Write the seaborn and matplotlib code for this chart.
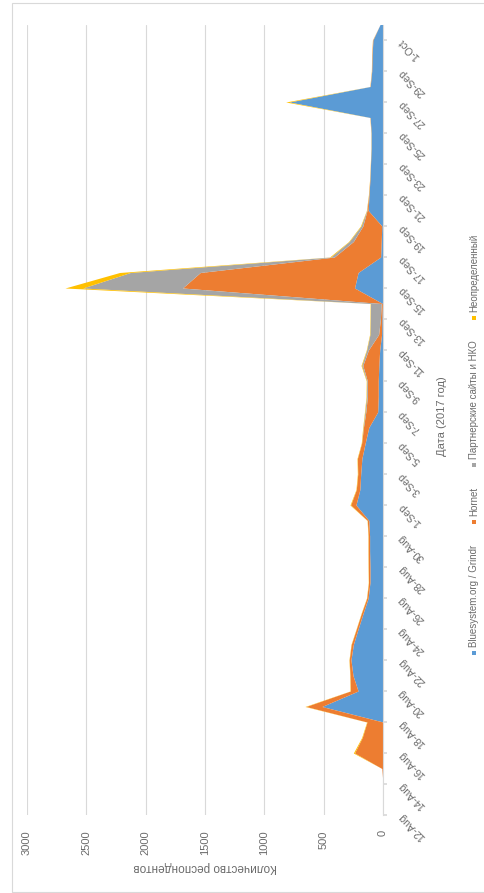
import numpy as np
import matplotlib
matplotlib.use('Agg')
import matplotlib.pyplot as plt
from matplotlib.patches import Rectangle
import seaborn as sns

# daily respondents, 12-Aug .. 2-Oct 2017
dates = ["12-Aug", "13-Aug", "14-Aug", "15-Aug", "16-Aug", "17-Aug", "18-Aug", "19-Aug",
         "20-Aug", "21-Aug", "22-Aug", "23-Aug", "24-Aug", "25-Aug", "26-Aug", "27-Aug",
         "28-Aug", "29-Aug", "30-Aug", "31-Aug", "1-Sep", "2-Sep", "3-Sep", "4-Sep",
         "5-Sep", "6-Sep", "7-Sep", "8-Sep", "9-Sep", "10-Sep", "11-Sep", "12-Sep",
         "13-Sep", "14-Sep", "15-Sep", "16-Sep", "17-Sep", "18-Sep", "19-Sep", "20-Sep",
         "21-Sep", "22-Sep", "23-Sep", "24-Sep", "25-Sep", "26-Sep", "27-Sep", "28-Sep",
         "29-Sep", "30-Sep", "1-Oct", "2-Oct"]

bluesystem = [0, 0, 0, 0, 0, 0, 0, 515, 210, 253, 270, 250, 210, 168, 125, 110,
              110, 113, 113, 120, 228, 195, 188, 178, 150, 120, 45, 40, 40, 35, 28, 12,
              10, 5, 240, 210, 20, 15, 10, 125, 118, 110, 105, 100, 100, 108, 790, 108,
              95, 92, 85, 25]
hornet = [0, 0, 0, 10, 240, 175, 135, 135, 65, 25, 15, 18, 15, 15, 12, 12,
          14, 12, 12, 12, 45, 30, 25, 38, 30, 45, 100, 92, 92, 135, 95, 25,
          12, 10, 1450, 1330, 390, 235, 160, 10, 3, 2, 1, 1, 1, 2, 0, 2,
          2, 3, 3, 0]
partners = [0, 0, 0, 0, 0, 0, 0, 0, 0, 0, 0, 0, 0, 0, 0, 0,
            0, 0, 0, 0, 0, 0, 0, 0, 0, 3, 8, 8, 6, 10, 15, 73,
            85, 90, 840, 590, 30, 35, 15, 3, 0, 0, 0, 0, 0, 0, 0, 0,
            0, 0, 0, 0]
undefined = [0, 0, 0, 0, 10, 5, 3, 8, 3, 2, 2, 2, 2, 2, 2, 2,
             2, 2, 2, 2, 5, 3, 3, 3, 3, 3, 3, 3, 3, 5, 3, 3,
             3, 3, 150, 90, 10, 5, 5, 2, 2, 1, 1, 1, 1, 1, 30, 1,
             1, 1, 1, 0]

series_names = ["Bluesystem.org / Grindr", "Hornet", "Партнерские сайты и НКО", "Неопределенный"]
colors = ["#5B9BD5", "#ED7D31", "#A5A5A5", "#FFC000"]
value_ticks = [0, 500, 1000, 1500, 2000, 2500, 3000]

sns.set_theme(style="white")
plt.rcParams['font.family'] = ['Liberation Sans', 'DejaVu Sans']
text_color = "#6b6b6b"

W, H = 484, 893
fig = plt.figure(figsize=(W / 100, H / 100), dpi=100)

# chart area frame (Excel style)
fig.patches.append(Rectangle((12 / W, 1 / H), 1.0, (889 / H), transform=fig.transFigure,
                             fill=False, edgecolor="#d9d9d9", lw=0.8))

# the chart is laid out turned 90 degrees: dates run upward, values run leftward
ax = fig.add_axes([27 / W, 78 / H, 356 / W, 790.5 / H])
days = np.arange(len(dates))
stack = np.vstack([bluesystem, hornet, partners, undefined]).astype(float)
tops = np.cumsum(stack, axis=0)
bottoms = np.vstack([np.zeros(len(dates)), tops[:-1]])
for i in range(len(series_names)):
    ax.fill_betweenx(days, bottoms[i], tops[i], color=colors[i], lw=0, zorder=2)

ax.set_xlim(3000, 0)
ax.set_ylim(0, len(dates) - 1)
ax.set_axisbelow(True)
ax.xaxis.grid(True, color="#d9d9d9", lw=0.8)
ax.yaxis.grid(False)
for side in ["left", "top", "bottom"]:
    ax.spines[side].set_visible(False)
ax.spines["right"].set_color("#d9d9d9")
ax.spines["right"].set_linewidth(0.8)

ax.set_xticks(value_ticks)
ax.set_xticklabels([str(v) for v in value_ticks], rotation=90, fontsize=8, color=text_color)
ax.tick_params(axis="x", length=0, pad=11)

ax.yaxis.tick_right()
ax.set_yticks(days[::2])
ax.set_yticklabels(dates[::2][:26], fontsize=7.5, color=text_color)
ax.tick_params(axis="y", length=3, color="#d9d9d9", pad=9)
for lab in ax.get_yticklabels():
    lab.set_rotation(135)
    lab.set_rotation_mode("anchor")
    lab.set_ha("right")
    lab.set_va("center")

ax.set_xlabel("Количество респондентов", fontsize=8.5, color=text_color, rotation=180, va="center")
ax.xaxis.set_label_coords(0.5, -0.066)
ax.yaxis.set_label_position("right")
ax.set_ylabel("Дата (2017 год)", fontsize=8, color=text_color, rotation=90, va="center", ha="center")
ax.yaxis.set_label_coords(1.166, 0.505)

# legend, written upward along the right edge
legend_y = [653, 522, 465, 318]
for name, col, ym in zip(series_names, colors, legend_y):
    fig.patches.append(Rectangle(((474 - 2) / W, (H - ym - 2) / H), 4 / W, 4 / H,
                                 transform=fig.transFigure, color=col, lw=0))
    fig.text(474 / W, (H - ym + 6) / H, name, rotation=90, rotation_mode="anchor",
             ha="left", va="center", fontsize=7, color=text_color)

plt.savefig("out.png", dpi=100)
plt.close()
